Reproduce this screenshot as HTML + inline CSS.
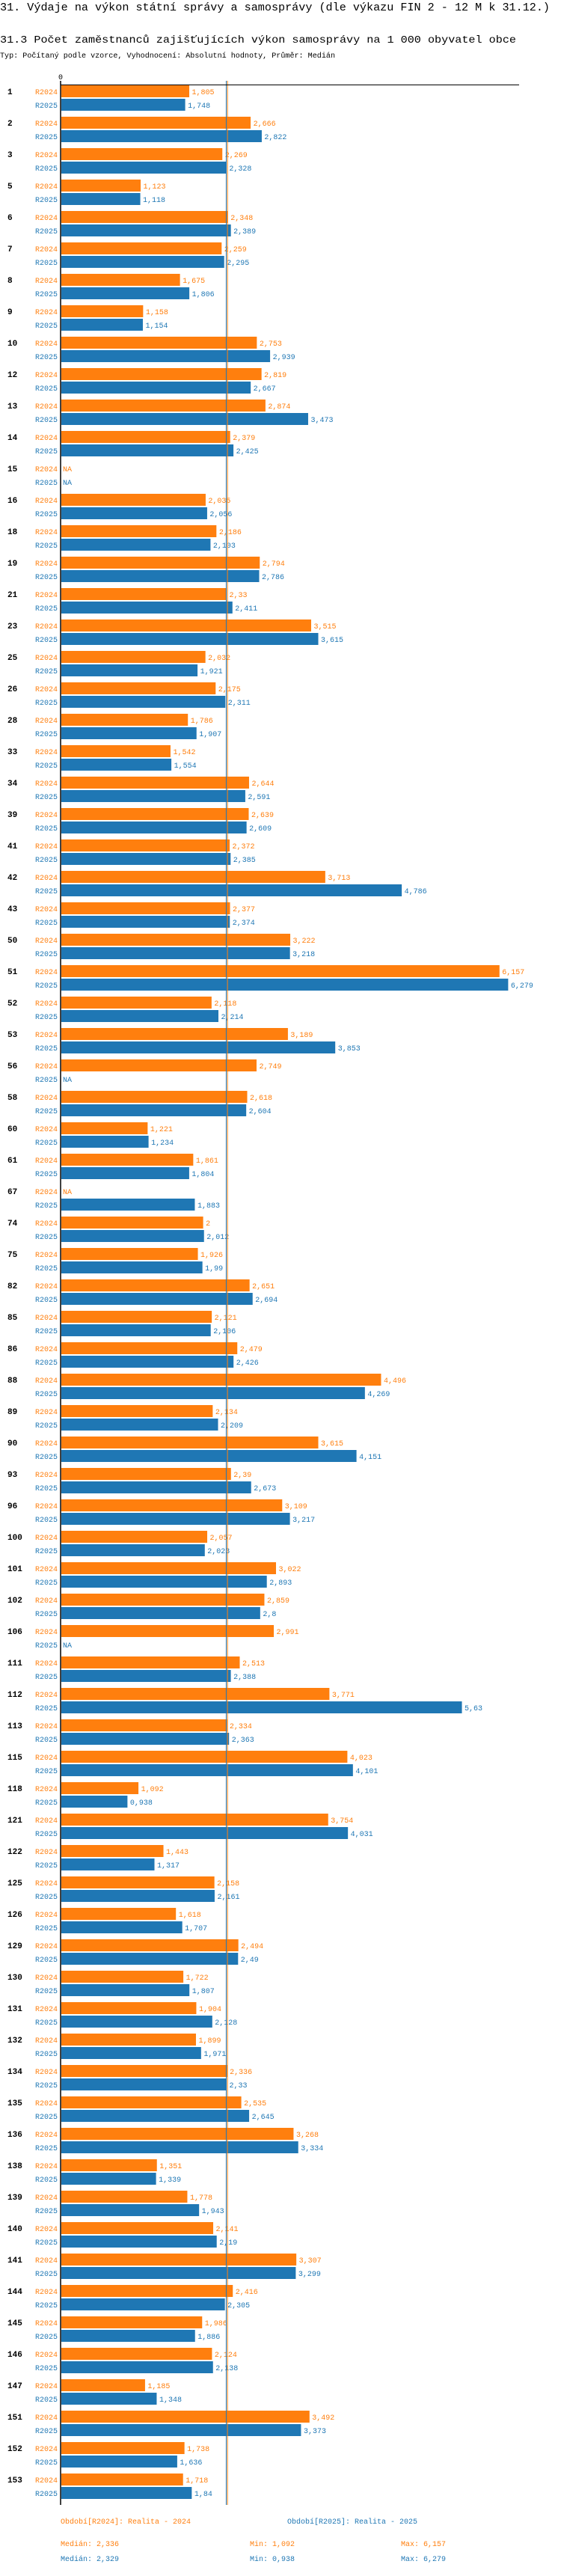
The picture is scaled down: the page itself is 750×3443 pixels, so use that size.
<!DOCTYPE html>
<html><head><meta charset="utf-8"><style>
html,body{margin:0;padding:0;background:#fff;}
svg text{font-family:"Liberation Mono",monospace;}
</style></head><body>
<svg id="chart" width="750" height="3438" viewBox="0 0 750 3438" xmlns="http://www.w3.org/2000/svg">
<text x="0" y="14" font-size="15" textLength="735" lengthAdjust="spacingAndGlyphs">31. Výdaje na výkon státní správy a samosprávy (dle výkazu FIN 2 - 12 M k 31.12.)</text>
<text x="0" y="57" font-size="14" textLength="690" lengthAdjust="spacingAndGlyphs">31.3 Počet zaměstnanců zajišťujících výkon samosprávy na 1 000 obyvatel obce</text>
<text x="0" y="77" font-size="10" textLength="448" lengthAdjust="spacingAndGlyphs">Typ: Počítaný podle vzorce, Vyhodnocení: Absolutní hodnoty, Průměr: Medián</text>
<g id="plot"></g>
<g font-size="10">
<text x="81" y="3373" fill="#ff7f0e">Období[R2024]: Realita - 2024</text>
<text x="384" y="3373" fill="#1f77b4">Období[R2025]: Realita - 2025</text>
<text x="81" y="3403" fill="#ff7f0e">Medián: 2,336</text>
<text x="334" y="3403" fill="#ff7f0e">Min: 1,092</text>
<text x="536" y="3403" fill="#ff7f0e">Max: 6,157</text>
<text x="81" y="3423" fill="#1f77b4">Medián: 2,329</text>
<text x="334" y="3423" fill="#1f77b4">Min: 0,938</text>
<text x="536" y="3423" fill="#1f77b4">Max: 6,279</text>
</g>
</svg>
<script>
const categories=["1","2","3","5","6","7","8","9","10","12","13","14","15","16","18","19","21","23","25","26","28","33","34","39","41","42","43","50","51","52","53","56","58","60","61","67","74","75","82","85","86","88","89","90","93","96","100","101","102","106","111","112","113","115","118","121","122","125","126","129","130","131","132","134","135","136","138","139","140","141","144","145","146","147","151","152","153"];
const r2024=[1.805,2.666,2.269,1.123,2.348,2.259,1.675,1.158,2.753,2.819,2.874,2.379,null,2.035,2.186,2.794,2.33,3.515,2.032,2.175,1.786,1.542,2.644,2.639,2.372,3.713,2.377,3.222,6.157,2.118,3.189,2.749,2.618,1.221,1.861,null,2,1.926,2.651,2.121,2.479,4.496,2.134,3.615,2.39,3.109,2.057,3.022,2.859,2.991,2.513,3.771,2.334,4.023,1.092,3.754,1.443,2.158,1.618,2.494,1.722,1.904,1.899,2.336,2.535,3.268,1.351,1.778,2.141,3.307,2.416,1.986,2.124,1.185,3.492,1.738,1.718];
const r2025=[1.748,2.822,2.328,1.118,2.389,2.295,1.806,1.154,2.939,2.667,3.473,2.425,null,2.056,2.103,2.786,2.411,3.615,1.921,2.311,1.907,1.554,2.591,2.609,2.385,4.786,2.374,3.218,6.279,2.214,3.853,null,2.604,1.234,1.804,1.883,2.012,1.99,2.694,2.106,2.426,4.269,2.209,4.151,2.673,3.217,2.023,2.893,2.8,null,2.388,5.63,2.363,4.101,0.938,4.031,1.317,2.161,1.707,2.49,1.807,2.128,1.971,2.33,2.645,3.334,1.339,1.943,2.19,3.299,2.305,1.886,2.138,1.348,3.373,1.636,1.84];
const medians=[2.336,2.329];
const axisTicks=["0"];

const X0=81, PX=95.3, TOP=114, STEP=42, BH=16;
const xScale=v=>X0+v*PX;
const yScale=i=>TOP+i*STEP;
const NS="http://www.w3.org/2000/svg";
const g=document.getElementById('plot');
function mk(tag,attrs,txt){const e=document.createElementNS(NS,tag);for(const k in attrs)e.setAttribute(k,attrs[k]);if(txt!=null)e.textContent=txt;g.appendChild(e);return e;}
const fmt=v=>String(v).replace('.',',');
const colors=["#ff7f0e","#1f77b4"];
const names=["R2024","R2025"];
const bottom=yScale(categories.length-1)+2*BH+2+8;

categories.forEach((c,i)=>{
  const y=yScale(i);
  const gl=mk('text',{x:10,y:y+12,'font-size':11,'font-weight':'bold',fill:'#000'},c);
  
  
  [r2024,r2025].forEach((arr,s)=>{
    const by=y+s*(BH+2);
    const lab=mk('text',{x:X0-4,y:by+12,'font-size':10,'text-anchor':'end',fill:colors[s]},names[s]);
    
    
    const v=arr[i];
    if(v==null){
      const na=mk('text',{x:X0+3,y:by+12,'font-size':10,fill:colors[s]},'NA');
      
      
      return;
    }
    const r=mk('rect',{x:X0+1,y:by,width:xScale(v)-X0-1,height:BH,fill:colors[s]});
    
    
    const t=mk('text',{x:xScale(v)+3.5,y:by+12,'font-size':10,fill:colors[s]},fmt(v));
    
    
  });
});
// median lines
const ml1=mk('line',{x1:xScale(medians[0])+0.5,x2:xScale(medians[0])+0.5,y1:108,y2:bottom,stroke:colors[0],'stroke-width':1});


const ml2=mk('line',{x1:xScale(medians[1])-0.5,x2:xScale(medians[1])-0.5,y1:108,y2:bottom,stroke:colors[1],'stroke-width':1});


// axes
const ax=mk('line',{x1:X0,x2:X0,y1:108,y2:bottom,stroke:'#000','stroke-width':1.5});


const tx=mk('line',{x1:X0,x2:694,y1:TOP-0.5,y2:TOP-0.5,stroke:'#000','stroke-width':1});


const z=mk('text',{x:X0,y:106,'font-size':10,'text-anchor':'middle',fill:'#000'},axisTicks[0]);


</script>
</body></html>
